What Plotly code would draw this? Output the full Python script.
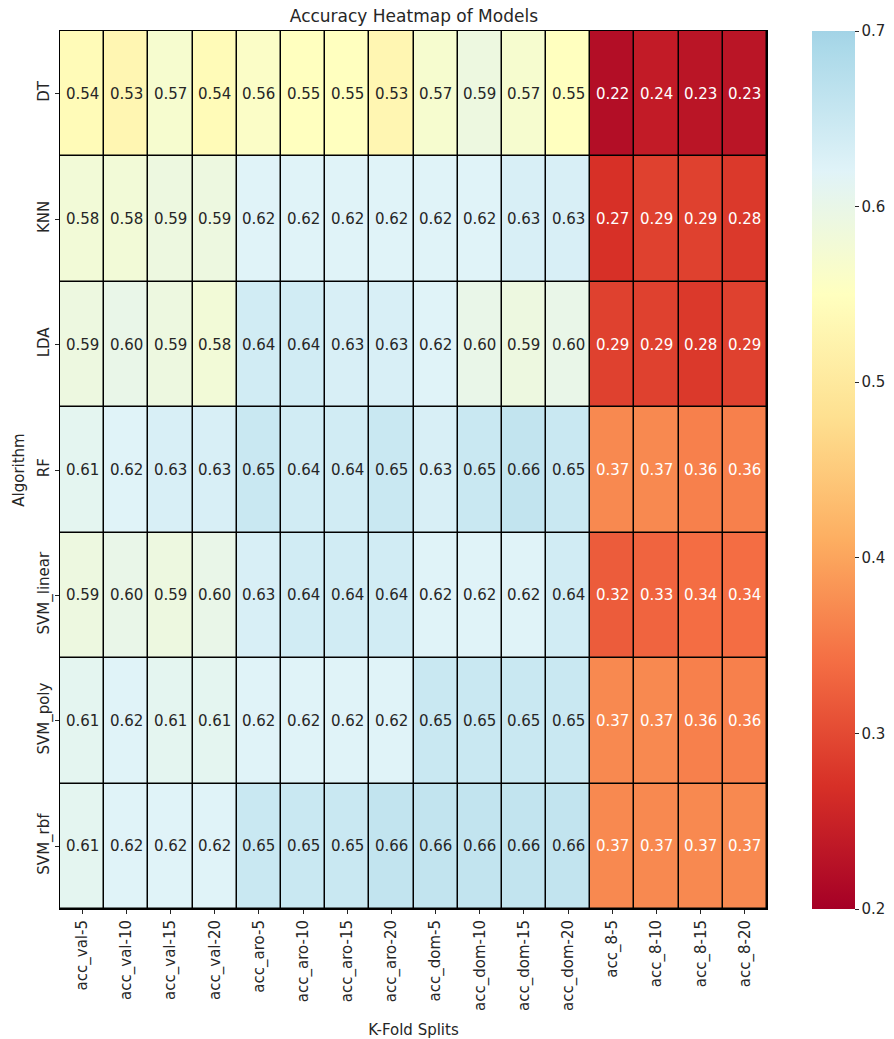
import plotly.graph_objects as go

# Accuracy of each algorithm for each label / fold-count combination
algorithms = ["DT", "KNN", "LDA", "RF", "SVM_linear", "SVM_poly", "SVM_rbf"]
splits = ["acc_val-5", "acc_val-10", "acc_val-15", "acc_val-20",
          "acc_aro-5", "acc_aro-10", "acc_aro-15", "acc_aro-20",
          "acc_dom-5", "acc_dom-10", "acc_dom-15", "acc_dom-20",
          "acc_8-5", "acc_8-10", "acc_8-15", "acc_8-20"]

acc_dt = [0.54, 0.53, 0.57, 0.54, 0.56, 0.55, 0.55, 0.53, 0.57, 0.59, 0.57, 0.55, 0.22, 0.24, 0.23, 0.23]
acc_knn = [0.58, 0.58, 0.59, 0.59, 0.62, 0.62, 0.62, 0.62, 0.62, 0.62, 0.63, 0.63, 0.27, 0.29, 0.29, 0.28]
acc_lda = [0.59, 0.60, 0.59, 0.58, 0.64, 0.64, 0.63, 0.63, 0.62, 0.60, 0.59, 0.60, 0.29, 0.29, 0.28, 0.29]
acc_rf = [0.61, 0.62, 0.63, 0.63, 0.65, 0.64, 0.64, 0.65, 0.63, 0.65, 0.66, 0.65, 0.37, 0.37, 0.36, 0.36]
acc_svm_linear = [0.59, 0.60, 0.59, 0.60, 0.63, 0.64, 0.64, 0.64, 0.62, 0.62, 0.62, 0.64, 0.32, 0.33, 0.34, 0.34]
acc_svm_poly = [0.61, 0.62, 0.61, 0.61, 0.62, 0.62, 0.62, 0.62, 0.65, 0.65, 0.65, 0.65, 0.37, 0.37, 0.36, 0.36]
acc_svm_rbf = [0.61, 0.62, 0.62, 0.62, 0.65, 0.65, 0.65, 0.66, 0.66, 0.66, 0.66, 0.66, 0.37, 0.37, 0.37, 0.37]

z = [acc_dt, acc_knn, acc_lda, acc_rf, acc_svm_linear, acc_svm_poly, acc_svm_rbf]

ZMIN, ZMAX = 0.2, 0.7

# RdYlBu, re-centred at 0.55 (only the red -> light-blue part is used)
rdylbu = ["#a50026", "#d73027", "#f46d43", "#fdae61", "#fee090", "#ffffbf",
          "#e0f3f8", "#abd9e9", "#74add1", "#4575b4", "#313695"]
span = 0.7 / 0.5  # colormap fraction per unit of colorbar
colorscale = [[min(i * 0.1 * span, 1.0), c] for i, c in enumerate(rdylbu[:8])]
colorscale[-1][0] = 0.98
colorscale.append([1.0, "#a3d3e6"])

fig = go.Figure(go.Heatmap(
    z=z, x=splits, y=algorithms,
    zmin=ZMIN, zmax=ZMAX,
    colorscale=colorscale,
    xgap=1.5, ygap=1.5,
    hoverinfo="skip",
    colorbar=dict(
        x=1.064, xanchor="left", xref="paper", xpad=0, ypad=0,
        y=0.5, yanchor="middle", len=1.0, lenmode="fraction",
        thickness=43, outlinewidth=0,
        tickvals=[0.2, 0.3, 0.4, 0.5, 0.6, 0.7],
        ticktext=["0.2", "0.3", "0.4", "0.5", "0.6", "0.7"],
        ticks="outside", ticklen=4, tickwidth=1, tickcolor="#262626",
        tickfont=dict(size=15, color="#262626", family="DejaVu Sans"),
    ),
))

annotations = []
for r, row in enumerate(z):
    for c, v in enumerate(row):
        annotations.append(dict(
            x=splits[c], y=algorithms[r], xref="x", yref="y",
            text=f"{v:.2f}", showarrow=False,
            font=dict(size=15, family="DejaVu Sans",
                      color="white" if v < 0.45 else "#262626"),
        ))

fig.update_layout(
    width=894, height=1039,
    margin=dict(l=60, r=127, t=31, b=130, autoexpand=False),
    paper_bgcolor="white", plot_bgcolor="black",
    font=dict(family="DejaVu Sans", color="#262626"),
    title=dict(text="Accuracy Heatmap of Models", x=0.463, xanchor="center",
               y=0.985, yanchor="middle", font=dict(size=17, color="#262626")),
    annotations=annotations,
)
fig.update_xaxes(
    tickangle=-90, ticks="outside", ticklen=4, tickcolor="#262626",
    tickfont=dict(size=15), showline=True, linecolor="black", linewidth=1,
    mirror=True, showgrid=False, zeroline=False,
    title=dict(text="K-Fold Splits", font=dict(size=15), standoff=20),
)
fig.update_yaxes(
    autorange="reversed", tickangle=-90, ticks="outside", ticklen=4,
    tickcolor="#262626", tickfont=dict(size=15), showline=True,
    linecolor="black", linewidth=1, mirror=True, showgrid=False,
    zeroline=False, title=dict(text="Algorithm", font=dict(size=15), standoff=6),
)

fig.write_html("out.html")
